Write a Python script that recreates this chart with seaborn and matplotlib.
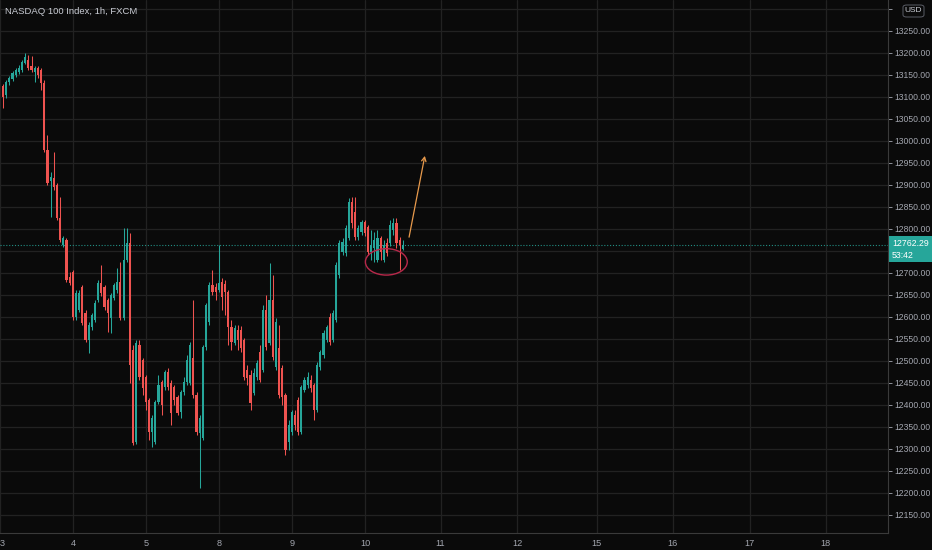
import numpy as np
import pandas as pd
import matplotlib
matplotlib.use("Agg")
import matplotlib.pyplot as plt
import seaborn as sns
from matplotlib.patches import Ellipse, FancyArrowPatch, Rectangle, FancyBboxPatch

# ---------------- data (hourly candles) ----------------
opens = [13125, 13104, 13134, 13140, 13150, 13156, 13161, 13177, 13184, 13170,
         13156, 13166, 13161, 13131, 12979, 12909, 12915, 12900, 12825, 12763,
         12775, 12690, 12702, 12600, 12615, 12668, 12609, 12547, 12577, 12593,
         12638, 12677, 12668, 12638, 12597, 12643, 12661, 12679, 12597, 12729,
         12768, 12525, 12316, 12536, 12502, 12463, 12411, 12338, 12316, 12406,
         12452, 12440, 12475, 12450, 12440, 12418, 12384, 12429, 12452, 12450,
         12507, 12422, 12336, 12325, 12531, 12588, 12672, 12668, 12661, 12679,
         12675, 12656, 12577, 12540, 12570, 12570, 12547, 12479, 12468, 12427,
         12463, 12520, 12479, 12615, 12540, 12638, 12486, 12529, 12484, 12422,
         12316, 12338, 12377, 12411, 12338, 12434, 12445, 12456, 12445, 12388,
         12486, 12513, 12547, 12600, 12547, 12593, 12695, 12747, 12745, 12779,
         12861, 12838, 12781, 12793, 12816, 12804, 12747, 12756, 12729, 12779,
         12729, 12768, 12768, 12797, 12813, 12775, 12754]
highs = [13129, 13138, 13147, 13159, 13166, 13172, 13184, 13200, 13195, 13193,
         13170, 13170, 13166, 13138, 13013, 12929, 12975, 12904, 12872, 12784,
         12779, 12702, 12706, 12661, 12661, 12672, 12615, 12588, 12609, 12638,
         12684, 12718, 12672, 12643, 12654, 12677, 12711, 12725, 12802, 12802,
         12790, 12536, 12547, 12547, 12507, 12468, 12415, 12377, 12411, 12468,
         12456, 12479, 12484, 12456, 12445, 12422, 12434, 12463, 12513, 12543,
         12638, 12429, 12377, 12536, 12631, 12679, 12706, 12677, 12763, 12688,
         12684, 12661, 12593, 12581, 12581, 12579, 12552, 12490, 12479, 12484,
         12502, 12536, 12627, 12650, 12722, 12695, 12597, 12581, 12490, 12427,
         12366, 12388, 12388, 12418, 12445, 12463, 12475, 12468, 12450, 12497,
         12525, 12570, 12581, 12609, 12615, 12725, 12775, 12779, 12809, 12870,
         12872, 12872, 12809, 12820, 12820, 12809, 12797, 12793, 12797, 12784,
         12775, 12779, 12820, 12825, 12825, 12781, 12775]
lows = [13075, 13097, 13127, 13136, 13145, 13152, 13156, 13175, 13161, 13156,
        13134, 13143, 13115, 12975, 12900, 12827, 12888, 12820, 12770, 12759,
        12679, 12672, 12593, 12593, 12611, 12581, 12543, 12518, 12570, 12588,
        12634, 12647, 12615, 12565, 12563, 12638, 12654, 12593, 12593, 12725,
        12450, 12309, 12311, 12456, 12422, 12388, 12320, 12304, 12311, 12402,
        12377, 12434, 12434, 12354, 12400, 12377, 12370, 12422, 12445, 12445,
        12415, 12331, 12211, 12320, 12525, 12581, 12650, 12638, 12656, 12615,
        12604, 12536, 12525, 12536, 12525, 12520, 12456, 12445, 12388, 12422,
        12456, 12452, 12475, 12525, 12536, 12502, 12479, 12415, 12400, 12286,
        12297, 12331, 12343, 12331, 12334, 12429, 12438, 12429, 12366, 12384,
        12479, 12507, 12543, 12536, 12543, 12588, 12688, 12740, 12738, 12775,
        12802, 12775, 12775, 12786, 12784, 12740, 12729, 12725, 12725, 12729,
        12725, 12738, 12761, 12786, 12756, 12706, 12752]
closes = [13100, 13134, 13143, 13154, 13161, 13166, 13179, 13190, 13166, 13161,
          13166, 13150, 13131, 12979, 12904, 12918, 12895, 12825, 12775, 12779,
          12684, 12677, 12600, 12654, 12654, 12586, 12547, 12581, 12604, 12631,
          12677, 12654, 12622, 12609, 12650, 12672, 12679, 12597, 12729, 12768,
          12490, 12313, 12540, 12463, 12438, 12406, 12338, 12370, 12406, 12445,
          12400, 12475, 12440, 12381, 12411, 12381, 12429, 12452, 12502, 12536,
          12422, 12338, 12370, 12531, 12627, 12672, 12656, 12656, 12677, 12645,
          12656, 12577, 12543, 12575, 12547, 12529, 12463, 12461, 12404, 12472,
          12495, 12456, 12615, 12531, 12638, 12509, 12588, 12422, 12418, 12297,
          12354, 12384, 12354, 12338, 12440, 12456, 12463, 12438, 12388, 12490,
          12520, 12563, 12577, 12543, 12609, 12718, 12768, 12770, 12802, 12861,
          12813, 12781, 12802, 12816, 12790, 12747, 12763, 12775, 12779, 12747,
          12763, 12745, 12809, 12813, 12768, 12763, 12762.29]

day_labels = ["3", "4", "5", "8", "9", "10", "11", "12", "15", "16", "17", "18"]
day_positions = [-0.95, 22.1, 45.1, 68.1, 91.2, 114.2, 137.9, 162.1, 187.1, 211.0, 235.3, 259.3]
price_ticks = [12150, 12200, 12250, 12300, 12350, 12400, 12450, 12500, 12550, 12600,
               12650, 12700, 12750, 12800, 12850, 12900, 12950, 13000, 13050, 13100,
               13150, 13200, 13250, 13300]
hidden_ticks = [12750, 13300]   # covered by the price tag / currency badge
last_price = 12762.29
countdown = "53:42"
title = "NASDAQ 100 Index, 1h, FXCM"
currency = "USD"

# annotation (bar index / price)
arrow_start = (127.8, 12775)
arrow_end = (133.1, 12972)
ellipse_center = (120.8, 12725)

# ---------------- styling ----------------
UP = "#26a69a"
DOWN = "#ef5350"
BG = "#0a0a0a"
GRID = "#222222"
TXT = "#a3a6af"

sns.set_theme(style="dark")
plt.rcParams["font.family"] = ["Liberation Sans", "DejaVu Sans"]

df = pd.DataFrame({"open": opens, "high": highs, "low": lows, "close": closes})
df["idx"] = np.arange(len(df))
df["up"] = df["close"] >= df["open"]
df["color"] = np.where(df["up"], UP, DOWN)
df["body_lo"] = df[["open", "close"]].min(axis=1)
df["body_h"] = (df["close"] - df["open"]).abs().clip(lower=1.8)

W, H = 932, 550
fig = plt.figure(figsize=(W / 100, H / 100), dpi=100, facecolor=BG)
ax = fig.add_axes([0, 17 / H, 888 / W, 533 / H])
ax.set_facecolor(BG)

# grid
for p in price_ticks:
    ax.axhline(p, color=GRID, lw=0.9, zorder=0)
for d in day_positions:
    ax.axvline(d, color=GRID, lw=0.9, zorder=0)

# candles
ax.vlines(df["idx"], df["low"], df["high"], colors=df["color"], lw=0.75, zorder=2)
ax.bar(df["idx"], df["body_h"], bottom=df["body_lo"], width=0.68,
       color=df["color"], linewidth=0, zorder=3)

# last price dotted line
ax.axhline(last_price, color=UP, lw=0.8, ls=(0, (1, 1.6)), alpha=0.85, zorder=1)

# annotations
ax.add_patch(Ellipse(ellipse_center, width=13.2, height=60, fill=False,
                     edgecolor="#b8284a", lw=1.0, zorder=4))
ax.add_patch(FancyArrowPatch(arrow_start, arrow_end, arrowstyle="->,head_length=3,head_width=1.6",
                             color="#e89a4c", lw=0.9, zorder=4))

ax.set_xlim(-0.95, 278.9)
ax.set_ylim(12109, 13320)

# axes styling
for s in ["top", "left"]:
    ax.spines[s].set_visible(False)
for s in ["right", "bottom"]:
    ax.spines[s].set_visible(True)
    ax.spines[s].set_color("#3a3a3a")
    ax.spines[s].set_linewidth(0.8)

ax.yaxis.tick_right()
ax.set_yticks(price_ticks)
ax.set_yticklabels(["" if p in hidden_ticks else f"{p:.2f}" for p in price_ticks])
ax.tick_params(axis="y", colors=TXT, labelsize=6.2, length=3, width=0.6, pad=1.5,
               right=True, left=False, labelright=True, labelleft=False)
ax.set_xticks(day_positions)
ax.set_xticklabels(day_labels)
ax.tick_params(axis="x", colors=TXT, labelsize=6.6, length=0, pad=4)
ax.get_xticklabels()[0].set_horizontalalignment("left")
ax.grid(False)

# title
fig.text(5 / W, 1 - 11 / H, title, color="#c9ccd4", fontsize=6.8, va="center", ha="left")

# last price label box
fig.patches.append(Rectangle((889 / W, 1 - 262 / H), 43 / W, 26 / H,
                             transform=fig.transFigure, facecolor=UP, edgecolor="none",
                             figure=fig, zorder=5))
fig.text(892 / W, 1 - 243 / H, f"{last_price:.2f}", color="white", fontsize=6.3,
         va="center", ha="left", zorder=6)
fig.text(892 / W, 1 - 255 / H, countdown, color="white", fontsize=6.3,
         va="center", ha="left", zorder=6)

# currency badge
fig.patches.append(FancyBboxPatch((903 / W, 1 - 17 / H), 21 / W, 12 / H,
                                  boxstyle="round,pad=0,rounding_size=0.004",
                                  transform=fig.transFigure, facecolor=BG,
                                  edgecolor="#5a5d66", lw=0.7, figure=fig, zorder=5))
fig.text(913.5 / W, 1 - 11 / H, currency, color="#c9ccd4", fontsize=6.0,
         va="center", ha="center", zorder=6)

fig.savefig("out.png", dpi=100, facecolor=BG)
